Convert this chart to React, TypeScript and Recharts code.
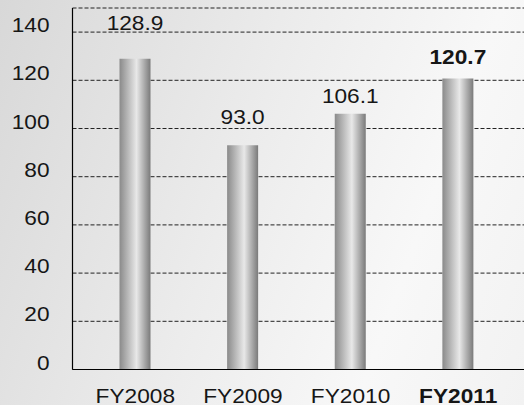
import React from 'react';
import { BarChart, Bar, XAxis, YAxis, CartesianGrid, LabelList } from 'recharts';

const categories = ['FY2008', 'FY2009', 'FY2010', 'FY2011'];
const sales = [128.9, 93.0, 106.1, 120.7];
const yTicks = [0, 20, 40, 60, 80, 100, 120, 140];

const data = categories.map((name, i) => ({ name, value: sales[i] }));

// gap between bar top and label baseline, per bar
const labelLift = [29, 21, 11, 15];
const FONT = '"Liberation Sans", Arial, Helvetica, sans-serif';
const INK = '#161616';

// the source type is slightly wide, so stretch it a little
const Label = ({ x, y, anchor, bold, children }: any) => (
  <text
    transform={`translate(${x},${y}) scale(1.08,1)`}
    textAnchor={anchor}
    fontFamily={FONT}
    fontSize={21}
    fontWeight={bold ? 'bold' : 'normal'}
    fill={INK}
  >
    {children}
  </text>
);

const YTick = (props: any) => {
  const { x, y, payload } = props;
  return <Label x={x} y={y} anchor="end">{payload.value}</Label>;
};

const XTick = (props: any) => {
  const { x, y, payload, index } = props;
  return (
    <Label x={x} y={y + 33} anchor="middle" bold={index === categories.length - 1}>
      {payload.value}
    </Label>
  );
};

const ValueLabel = (props: any) => {
  const { x, y, width, value, index } = props;
  return (
    <Label x={x + width / 2} y={y - labelLift[index]} anchor="middle" bold={index === sales.length - 1}>
      {value.toFixed(1)}
    </Label>
  );
};

export default function App() {
  return (
    <div
      style={{
        width: 524,
        height: 405,
        background: 'linear-gradient(110deg, #d8d8d8 0%, #ececec 45%, #f8f8f8 75%, #f2f2f2 100%)',
      }}
    >
      <style>{'body{margin:0}'}</style>
      <BarChart width={524} height={405} data={data} margin={{ top: 8, right: 0, left: 0, bottom: 0 }}>
        <defs>
          <linearGradient id="barShade" x1="0" y1="0" x2="1" y2="0">
            <stop offset="0%" stopColor="#8a8a8a" />
            <stop offset="55%" stopColor="#e8e8e8" />
            <stop offset="100%" stopColor="#7a7a7a" />
          </linearGradient>
        </defs>
        <CartesianGrid vertical={false} stroke="#222" strokeDasharray="4 2" />
        <XAxis
          dataKey="name"
          height={35.5}
          tickLine={false}
          tickSize={0}
          tickMargin={0}
          axisLine={{ stroke: '#000', strokeWidth: 1.2 }}
          padding={{ left: 9, right: 12 }}
          tick={<XTick />}
          interval={0}
        />
        <YAxis
          width={72.5}
          domain={[0, 150]}
          ticks={yTicks}
          tickLine={false}
          tickSize={0}
          tickMargin={23}
          axisLine={{ stroke: '#000', strokeWidth: 1.2 }}
          tick={<YTick />}
        />
        <Bar dataKey="value" fill="url(#barShade)" barSize={31} isAnimationActive={false}>
          <LabelList dataKey="value" content={<ValueLabel />} />
        </Bar>
      </BarChart>
    </div>
  );
}
